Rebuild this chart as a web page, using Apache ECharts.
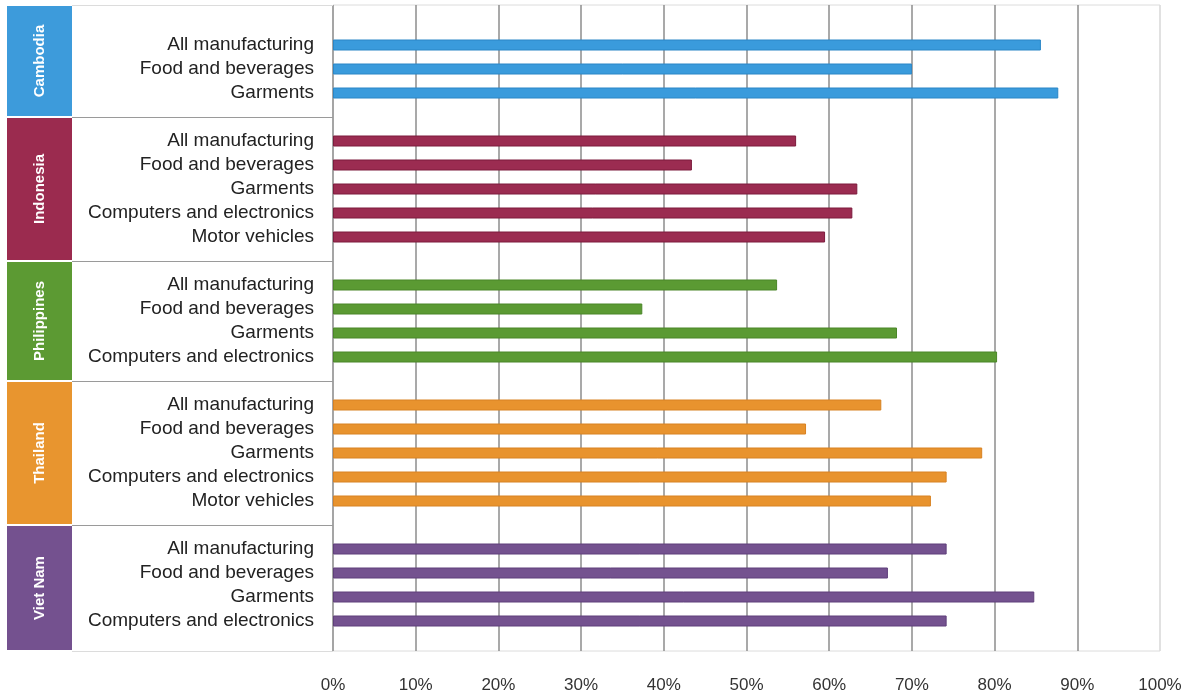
<!DOCTYPE html>
<html>
<head>
<meta charset="utf-8">
<script src="https://cdn.jsdelivr.net/npm/echarts@6/dist/echarts.min.js"></script>
<style>
html,body{margin:0;padding:0;background:#fff;}
#chart{width:1194px;height:698px;}
</style>
</head>
<body>
<div id="chart"></div>
<script>
// ---- data ----
const countries = ['Cambodia', 'Indonesia', 'Philippines', 'Thailand', 'Viet Nam'];
const cambodiaSectors = ['All manufacturing', 'Food and beverages', 'Garments'];
const cambodiaValues = [85.6, 70.0, 87.7];
const indonesiaSectors = ['All manufacturing', 'Food and beverages', 'Garments', 'Computers and electronics', 'Motor vehicles'];
const indonesiaValues = [56.0, 43.4, 63.4, 62.8, 59.5];
const philippinesSectors = ['All manufacturing', 'Food and beverages', 'Garments', 'Computers and electronics'];
const philippinesValues = [53.7, 37.4, 68.2, 80.3];
const thailandSectors = ['All manufacturing', 'Food and beverages', 'Garments', 'Computers and electronics', 'Motor vehicles'];
const thailandValues = [66.3, 57.2, 78.5, 74.2, 72.3];
const vietnamSectors = ['All manufacturing', 'Food and beverages', 'Garments', 'Computers and electronics'];
const vietnamValues = [74.2, 67.1, 84.8, 74.2];
const xTickValues = [0, 10, 20, 30, 40, 50, 60, 70, 80, 90, 100];

// ---- styles ----
const fillColors = ['#3a9bdc', '#9b2c51', '#5b9a33', '#e8932e', '#74528f'];
const borderColors = ['#2a86c6', '#7c1b3d', '#4a8628', '#d88222', '#5f3f7a'];
const boxColors = ['#3d9bdb', '#9b2b4f', '#5c9a33', '#e8952f', '#74518f'];
const FRAME_TOP = 5, FRAME_BOTTOM = 651, PLOT_LEFT = 333, PLOT_RIGHT = 34;
const BOX_X = 7, BOX_W = 65, PANEL_X = 72;

const sectorsByCountry = [cambodiaSectors, indonesiaSectors, philippinesSectors, thailandSectors, vietnamSectors];
const valuesByCountry = [cambodiaValues, indonesiaValues, philippinesValues, thailandValues, vietnamValues];

const categories = [];
const barData = [];
const groupRanges = [];
countries.forEach((c, g) => {
  if (g > 0) { categories.push(''); barData.push('-'); }
  const first = categories.length;
  sectorsByCountry[g].forEach((s, k) => {
    categories.push(s);
    barData.push({ value: valuesByCountry[g][k], itemStyle: { color: fillColors[g], borderColor: borderColors[g] } });
  });
  groupRanges.push([0, first, categories.length - 1, g]);
});

const nCat = categories.length;
const gridBTop = 33, gridBHeight = 24 * nCat;

const splitColors = xTickValues.map((v, i) => i === xTickValues.length - 1 ? '#dcdcdc' : '#8c8c8c');

const chart = echarts.init(document.getElementById('chart'), null, { renderer: 'canvas' });
chart.setOption({
  animation: false,
  backgroundColor: '#fff',
  grid: [
    { left: PLOT_LEFT, right: PLOT_RIGHT, top: FRAME_TOP, bottom: 698 - FRAME_BOTTOM, show: true, borderColor: '#dcdcdc', borderWidth: 1 },
    { left: PLOT_LEFT, right: PLOT_RIGHT, top: gridBTop, height: gridBHeight }
  ],
  xAxis: [
    {
      gridIndex: 0, type: 'value', min: 0, max: 100, interval: 10,
      axisLine: { show: false }, axisTick: { show: false },
      axisLabel: { formatter: '{value}%', color: '#333', fontSize: 17, fontFamily: 'Liberation Sans', margin: 26 },
      splitLine: { show: true, lineStyle: { color: splitColors, width: 1.5 } }
    },
    { gridIndex: 1, type: 'value', min: 0, max: 100, show: false, splitLine: { show: false } }
  ],
  yAxis: [
    { gridIndex: 0, type: 'value', show: false, min: 0, max: 1, splitLine: { show: false } },
    {
      gridIndex: 1, type: 'category', inverse: true, data: categories,
      axisLine: { show: false }, axisTick: { show: false }, splitLine: { show: false },
      axisLabel: { color: '#222', fontSize: 19, fontFamily: 'Liberation Sans', margin: 19, interval: 0 }
    }
  ],
  series: [
    {
      type: 'bar', xAxisIndex: 1, yAxisIndex: 1, data: barData,
      barWidth: 11, itemStyle: { borderWidth: 1 }, z: 3
    },
    {
      type: 'custom', xAxisIndex: 1, yAxisIndex: 1, clip: false, z: 4,
      data: groupRanges,
      encode: { x: 0, y: 1 },
      renderItem: function (params, api) {
        const idx = params.dataIndex;
        const r = groupRanges[idx];
        const first = r[1], last = r[2], g = r[3];
        const isFirst = g === 0, isLast = g === countries.length - 1;
        const top = isFirst ? FRAME_TOP : api.coord([0, first - 1])[1];
        const bottom = isLast ? FRAME_BOTTOM : api.coord([0, last + 1])[1];
        const left = params.coordSys.x;
        const children = [
          { type: 'rect', shape: { x: BOX_X, y: top + 1, width: BOX_W, height: bottom - top - 2 }, style: { fill: boxColors[g] } },
          { type: 'text', x: BOX_X + BOX_W / 2, y: (top + bottom) / 2, rotation: Math.PI / 2,
            style: { text: countries[g], fill: '#fff', font: 'bold 15px "Liberation Sans"', align: 'center', verticalAlign: 'middle' } }
        ];
        if (!isLast) {
          children.push({ type: 'line', shape: { x1: PANEL_X, y1: Math.round(bottom) + 0.5, x2: left, y2: Math.round(bottom) + 0.5 }, style: { stroke: '#9a9a9a', lineWidth: 1 } });
        } else {
          children.push({ type: 'line', shape: { x1: PANEL_X, y1: FRAME_BOTTOM + 0.5, x2: left, y2: FRAME_BOTTOM + 0.5 }, style: { stroke: '#dcdcdc', lineWidth: 1 } });
        }
        if (isFirst) {
          children.push({ type: 'line', shape: { x1: PANEL_X, y1: FRAME_TOP + 0.5, x2: left, y2: FRAME_TOP + 0.5 }, style: { stroke: '#dcdcdc', lineWidth: 1 } });
        }
        return { type: 'group', children: children };
      }
    }
  ]
});
</script>
</body>
</html>
